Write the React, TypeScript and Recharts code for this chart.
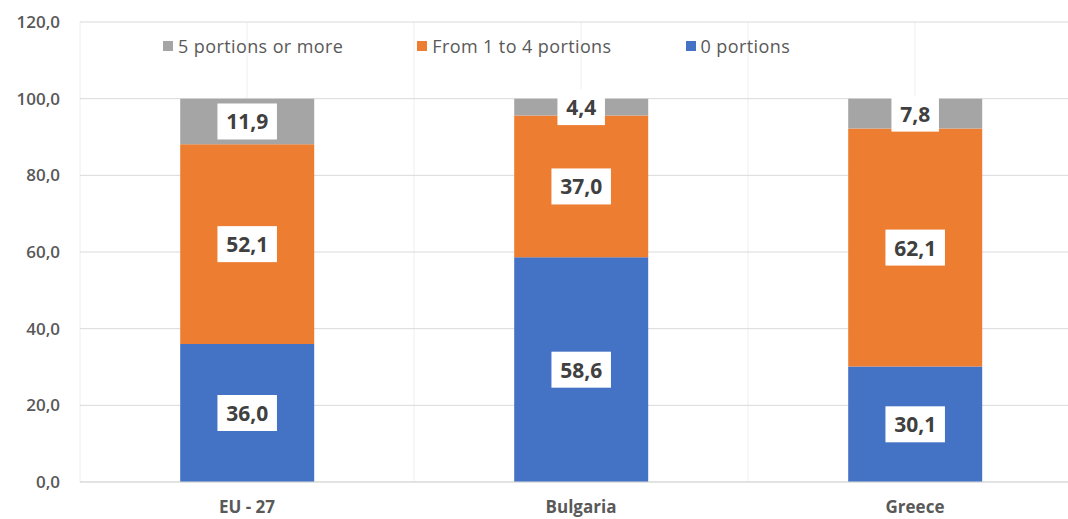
import { BarChart, Bar, XAxis, YAxis, CartesianGrid, Legend, LabelList } from 'recharts';

const countries = ['EU - 27', 'Bulgaria', 'Greece'];
const zeroPortions = [36.0, 58.6, 30.1];
const oneToFourPortions = [52.1, 37.0, 62.1];
const fivePlusPortions = [11.9, 4.4, 7.8];
const yTicks = [0, 20, 40, 60, 80, 100, 120];

const seriesConfig = [
  { key: 'zero', label: '0 portions', color: '#4472C4' },
  { key: 'oneToFour', label: 'From 1 to 4 portions', color: '#ED7D31' },
  { key: 'fivePlus', label: '5 portions or more', color: '#A5A5A5' },
];

const data = countries.map((name, i) => ({
  name,
  zero: zeroPortions[i],
  oneToFour: oneToFourPortions[i],
  fivePlus: fivePlusPortions[i],
}));

const FONT = '"Open Sans", "Noto Sans", sans-serif';
const fmt = (v: number) => v.toFixed(1).replace('.', ',');

// white box with the value, centred on the segment
const ValueBox = (props: any) => {
  const { x, y, width, height, value } = props;
  const text = fmt(Number(value));
  const cx = x + width / 2;
  const cy = y + height / 2;
  const textW = text.split('').reduce((s: number, c: string) => s + (c === ',' ? 5.5 : 12), 0);
  const boxW = textW + 18;
  const boxH = 36;
  return (
    <g>
      <rect x={cx - boxW / 2} y={cy - boxH / 2} width={boxW} height={boxH} fill="#ffffff" />
      <text
        x={cx}
        y={cy}
        textAnchor="middle"
        dominantBaseline="central"
        fontFamily={FONT}
        fontWeight={700}
        fontSize={21}
        fill="#404040"
      >
        {text}
      </text>
    </g>
  );
};

// faint vertical lines at every half category
const halfBandLines = ({ offset }: any) => {
  const n = countries.length * 2;
  return Array.from({ length: n + 1 }, (_, k) => offset.left + (offset.width * k) / n);
};

const renderLegend = () => {
  // legend order is reversed (top of stack first)
  const items = [...seriesConfig].reverse();
  return (
    <div style={{ display: 'flex', gap: 74, paddingLeft: 163, fontFamily: FONT, fontSize: 18, letterSpacing: 0.4, color: '#595959' }}>
      {items.map(item => (
        <div key={item.key} style={{ display: 'flex', alignItems: 'center' }}>
          <span style={{ display: 'inline-block', width: 10, height: 10, background: item.color, marginRight: 5 }} />
          <span>{item.label}</span>
        </div>
      ))}
    </div>
  );
};

export default function App() {
  return (
    <div style={{ position: 'absolute', top: 0, left: 0, width: 1068, height: 519, overflow: 'hidden', background: '#fff' }}>
      <BarChart
        width={1082}
        height={519}
        data={data}
        margin={{ top: 22, right: 0, left: 0, bottom: 0 }}
        barCategoryGap="30%"
      >
        <CartesianGrid horizontal={false} vertical={true} verticalCoordinatesGenerator={halfBandLines} stroke="#eeeeee" />
        <CartesianGrid horizontal={true} vertical={false} stroke="#d9d9d9" />
        <XAxis
          dataKey="name"
          height={37}
          axisLine={{ stroke: '#d9d9d9' }}
          tickLine={false}
          tickMargin={13}
          tick={{ fontFamily: FONT, fontSize: 17, fontWeight: 700, fill: '#595959' }}
        />
        <YAxis
          width={80}
          domain={[0, 120]}
          ticks={yTicks}
          axisLine={false}
          tickLine={false}
          tickMargin={14}
          tickFormatter={fmt}
          tick={{ fontFamily: FONT, fontSize: 17, fontWeight: 600, fill: '#595959' }}
        />
        <Legend
          layout="horizontal"
          verticalAlign="middle"
          align="center"
          content={renderLegend}
          wrapperStyle={{ top: 34, left: 0, width: 1068 }}
        />
        {seriesConfig.map(s => (
          <Bar key={s.key} dataKey={s.key} stackId="a" fill={s.color} name={s.label} isAnimationActive={false}>
            <LabelList dataKey={s.key} content={ValueBox} />
          </Bar>
        ))}
      </BarChart>
    </div>
  );
}
